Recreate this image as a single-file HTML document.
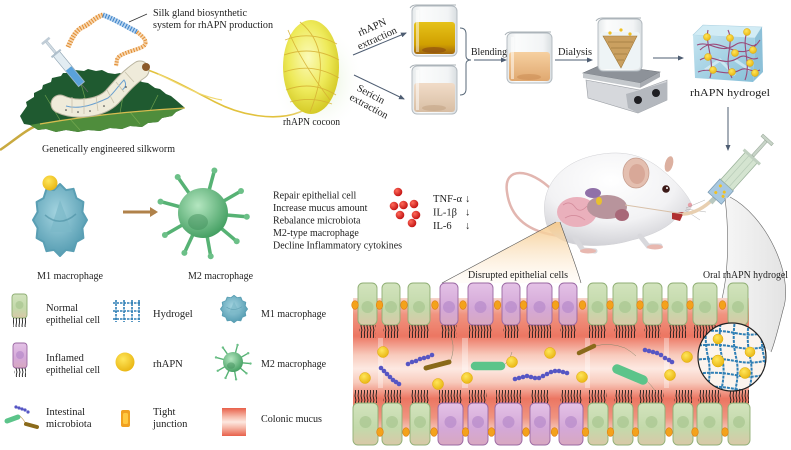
<!DOCTYPE html>
<html><head><meta charset="utf-8">
<style>
html,body{margin:0;padding:0;background:#fff;}
svg{display:block;}
text{font-family:"Liberation Serif","DejaVu Serif",serif;fill:#1e1e1e;font-size:10.5px;}
.g{fill:url(#gc);stroke:#8fae74;stroke-width:0.9;}
.p{fill:url(#pc);stroke:#9a68a2;stroke-width:0.9;}
.ng{fill:#a9c792;opacity:.75;}
.np{fill:#b88ccb;opacity:.75;}
.mv{fill:url(#mv);}
.tj{fill:#f3a21c;stroke:#e07c10;stroke-width:.6;}
.yd{fill:url(#yg);stroke:#e0a800;stroke-width:.5;}
.bc{fill:#5656c4;}
.ar{stroke:#4e5d72;stroke-width:1;fill:none;}
.ls{font-size:10px;}
</style></head><body>
<svg width="791" height="450" viewBox="0 0 791 450" xmlns="http://www.w3.org/2000/svg">
<defs>
<marker id="ah" markerWidth="6" markerHeight="6" refX="5" refY="3" orient="auto" markerUnits="userSpaceOnUse"><path d="M0,0.5 L6,3 L0,5.5 z" fill="#4e5d72"/></marker>
<marker id="ahb" markerWidth="10" markerHeight="10" refX="6" refY="5" orient="auto" markerUnits="userSpaceOnUse"><path d="M0,0 L8,5 L0,10 z" fill="#b0824a"/></marker>
<radialGradient id="cocG" cx="0.45" cy="0.4" r="0.65"><stop offset="0" stop-color="#fbfab8"/><stop offset="0.55" stop-color="#eeea5a"/><stop offset="1" stop-color="#d0c41c"/></radialGradient>
<radialGradient id="glow" cx="0.5" cy="0.5" r="0.5"><stop offset="0" stop-color="#d6ebc0" stop-opacity="0.9"/><stop offset="1" stop-color="#ffffff" stop-opacity="0"/></radialGradient>
<linearGradient id="mucus" x1="0" y1="0" x2="0" y2="1">
<stop offset="0" stop-color="#f7d6cc"/><stop offset="0.12" stop-color="#f09480"/><stop offset="0.28" stop-color="#ec7662"/><stop offset="0.42" stop-color="#f8cbbd"/><stop offset="0.52" stop-color="#fde9e2"/><stop offset="0.62" stop-color="#f8cbbd"/><stop offset="0.74" stop-color="#ec7662"/><stop offset="0.88" stop-color="#f09480"/><stop offset="1" stop-color="#f7d6cc"/></linearGradient>
<linearGradient id="gc" x1="0" y1="0" x2="0" y2="1"><stop offset="0" stop-color="#d2e3bd"/><stop offset="0.6" stop-color="#c3d9aa"/><stop offset="1" stop-color="#d9c9a8"/></linearGradient>
<linearGradient id="pc" x1="0" y1="0" x2="0" y2="1"><stop offset="0" stop-color="#e4c2e6"/><stop offset="0.6" stop-color="#d4a8d8"/><stop offset="1" stop-color="#d8a8c0"/></linearGradient>
<pattern id="mv" width="3" height="14" patternUnits="userSpaceOnUse"><path d="M1.5 0 L1 4 L2 8 L1.3 11 L1.5 14" stroke="#1b1b1b" stroke-width="0.9" fill="none"/></pattern>
<radialGradient id="yg" cx="0.4" cy="0.35" r="0.7"><stop offset="0" stop-color="#ffe65a"/><stop offset="1" stop-color="#e8b410"/></radialGradient>
<radialGradient id="m1g" cx="0.45" cy="0.4" r="0.65"><stop offset="0" stop-color="#a4d4e0"/><stop offset="1" stop-color="#4f98ae"/></radialGradient>
<radialGradient id="m2g" cx="0.4" cy="0.35" r="0.7"><stop offset="0" stop-color="#b4e6c0"/><stop offset="1" stop-color="#3f9c5e"/></radialGradient>
<radialGradient id="rd" cx="0.35" cy="0.35" r="0.7"><stop offset="0" stop-color="#ff6a5a"/><stop offset="1" stop-color="#c01010"/></radialGradient>
<linearGradient id="coneO" x1="0" y1="0" x2="0" y2="1"><stop offset="0" stop-color="#f5c98c" stop-opacity="0.95"/><stop offset="1" stop-color="#fff6ea" stop-opacity="0.3"/></linearGradient>
<linearGradient id="coneG" x1="0" y1="0" x2="1" y2="0"><stop offset="0" stop-color="#f6f6f6"/><stop offset="1" stop-color="#dcdcdc"/></linearGradient>
<radialGradient id="mouseG" cx="0.45" cy="0.3" r="0.8"><stop offset="0" stop-color="#ffffff"/><stop offset="0.55" stop-color="#f2f2f4"/><stop offset="1" stop-color="#c6c6cc"/></radialGradient>
<linearGradient id="cubeF" x1="0" y1="0" x2="1" y2="1"><stop offset="0" stop-color="#c4e4f0"/><stop offset="1" stop-color="#86bfd8"/></linearGradient>
<linearGradient id="gold" x1="0" y1="0" x2="0" y2="1"><stop offset="0" stop-color="#e6c21a"/><stop offset="0.7" stop-color="#d0a000"/><stop offset="1" stop-color="#a46a10"/></linearGradient>
<linearGradient id="peach" x1="0" y1="0" x2="0" y2="1"><stop offset="0" stop-color="#f1dcc8"/><stop offset="1" stop-color="#d8bea4"/></linearGradient>
<linearGradient id="orng" x1="0" y1="0" x2="0" y2="1"><stop offset="0" stop-color="#f6d0a0"/><stop offset="1" stop-color="#e0a870"/></linearGradient>
<linearGradient id="glass" x1="0" y1="0" x2="1" y2="0"><stop offset="0" stop-color="#e4e8ea"/><stop offset="0.2" stop-color="#fbfcfc"/><stop offset="0.8" stop-color="#f2f4f5"/><stop offset="1" stop-color="#d8dde0"/></linearGradient>
<linearGradient id="cm" x1="0" y1="0" x2="0" y2="1"><stop offset="0" stop-color="#e8604a"/><stop offset="0.3" stop-color="#f6b8a8"/><stop offset="0.5" stop-color="#fde8e0"/><stop offset="0.7" stop-color="#f6b8a8"/><stop offset="1" stop-color="#e8604a"/></linearGradient>
<clipPath id="circ"><circle cx="732" cy="357" r="34"/></clipPath>
<g id="m1shape"><polygon points="87,220 82.4,228 83.4,238 76.4,241.9 73.5,251.2 66,249.9 60,256 54,249.9 46.5,251.2 43.6,241.9 36.6,238 37.6,228 33,220 37.6,212 36.6,202 43.6,198.1 46.5,188.8 54,190.1 60,184 66,190.1 73.5,188.8 76.4,198.1 83.4,202 82.4,212" fill="url(#m1g)" stroke="#5a9fb4" stroke-width="2" stroke-linejoin="round"/>
<path d="M50,232 L60,200 L72,232 Z" fill="#7ab8c8" opacity=".7"/><path d="M45,215 Q60,228 76,214" stroke="#4a8ea2" stroke-width="1.5" fill="none" opacity=".6"/></g>
<g id="m2shape">
<g stroke="#56b274" stroke-width="3.5" stroke-linecap="round">
<line x1="203" y1="213" x2="160.5" y2="201.6"/><line x1="203" y1="213" x2="177.7" y2="177"/><line x1="203" y1="213" x2="214.4" y2="170.5"/><line x1="203" y1="213" x2="241" y2="191"/><line x1="203" y1="213" x2="246.8" y2="216.8"/><line x1="203" y1="213" x2="236.7" y2="241.3"/><line x1="203" y1="213" x2="210.7" y2="256.3"/><line x1="203" y1="213" x2="184.4" y2="252.9"/><line x1="203" y1="213" x2="164.9" y2="235"/></g>
<g fill="#6cc088"><circle cx="160.5" cy="201.6" r="3"/><circle cx="177.7" cy="177" r="3"/><circle cx="214.4" cy="170.5" r="3"/><circle cx="241" cy="191" r="3"/><circle cx="246.8" cy="216.8" r="3"/><circle cx="236.7" cy="241.3" r="3"/><circle cx="210.7" cy="256.3" r="3"/><circle cx="184.4" cy="252.9" r="3"/><circle cx="164.9" cy="235" r="3"/></g>
<circle cx="203" cy="213" r="25" fill="url(#m2g)"/>
<ellipse cx="198" cy="222" rx="10" ry="8" fill="#3e8c58" opacity=".45"/></g>
</defs>

<!-- ===== Top-left: leaf, silkworm, syringe, DNA ===== -->
<path d="M0,150 C15,140 25,130 40,124" stroke="#c9aa40" stroke-width="2.5" fill="none"/>
<path d="M20,116 L27,106 L26,102 L34,97 L34,93 L42,89 L43,85 L51,82 L52,78 L61,76 L63,73 L72,73 L75,70 L84,71 L88,69 L96,71 L102,70 L108,73 L115,74 L120,73 L128,77 L134,77 L142,82 L148,83 L155,88 L160,89 L166,94 L171,96 L177,101 L185,108 L176,112 L172,116 L162,118 L158,122 L148,123 L142,127 L130,126 L122,129 L110,128 L100,131 L88,130 L78,132 L66,130 L56,132 L46,129 L38,130 L30,125 L24,124 Z" fill="#1f5a30"/>
<path d="M30,125 Q100,112 185,108 L176,112 L172,116 L162,118 L158,122 L148,123 L142,127 L130,126 L122,129 L110,128 L100,131 L88,130 L78,132 L66,130 L56,132 L46,129 L38,130 Z" fill="#4f8d3c"/>
<g stroke="#7fb055" stroke-width=".7" fill="none" opacity=".8"><path d="M60,120 L45,95"/><path d="M90,116 L80,80"/><path d="M120,113 L125,85"/><path d="M150,111 L158,95"/><path d="M70,119 L80,130"/><path d="M130,112 L140,124"/></g>
<path d="M40,124 Q110,112 185,108" stroke="#d8bc50" stroke-width="1.3" fill="none"/>
<path d="M148,70 C175,80 195,92 215,102 C240,115 275,122 300,112 C315,106 328,98 334,90" stroke="#e2c23e" stroke-width="1.6" fill="none"/>
<path d="M158,74 C180,84 198,96 222,100" stroke="#f0d870" stroke-width="1.2" fill="none"/>
<path d="M60,104 C75,111 100,109 112,97 C120,88 128,78 140,70" stroke="#b9b49f" stroke-width="19" stroke-linecap="round" fill="none"/>
<path d="M60,104 C75,111 100,109 112,97 C120,88 128,78 140,70" stroke="#efebda" stroke-width="17" stroke-linecap="round" fill="none"/>
<path d="M66,106 C80,110 95,104 108,98 C115,92 118,86 124,80 Q128,86 122,90" stroke="#6aa0d0" stroke-width="1" fill="none"/>
<g stroke="#c8c2ac" stroke-width=".8"><line x1="72" y1="97" x2="72" y2="113"/><line x1="84" y1="98" x2="84" y2="114"/><line x1="96" y1="96" x2="98" y2="111"/><line x1="107" y1="90" x2="114" y2="103"/><line x1="116" y1="82" x2="124" y2="92"/><line x1="125" y1="72" x2="134" y2="82"/></g>
<g fill="#333"><circle cx="66" cy="110" r=".8"/><circle cx="78" cy="112" r=".8"/><circle cx="90" cy="111" r=".8"/><circle cx="104" cy="106" r=".8"/><circle cx="126" cy="87" r=".8"/></g>
<circle cx="146" cy="67" r="4" fill="#8b5a2b"/>
<g transform="translate(88,92) rotate(-129.6)">
<line x1="0" y1="0" x2="11" y2="0" stroke="#666" stroke-width=".8"/>
<rect x="10" y="-4" width="40" height="8" fill="#e2ecf2" stroke="#8aa0b0" stroke-width=".6"/>
<rect x="10.5" y="-3.5" width="20" height="7" fill="#5aa2da"/>
<rect x="49" y="-6" width="2" height="12" fill="#b0c0cc"/>
<rect x="51" y="-1.2" width="14" height="2.4" fill="#d0dae2" stroke="#8aa0b0" stroke-width=".4"/>
<rect x="65" y="-5" width="2.5" height="10" fill="#c0ccd6"/>
</g>
<path d="M68,47 C72,38 76,30 83,27 C90,24 95,17 103,15" stroke="#f0b060" stroke-width="5" fill="none" opacity=".5"/>
<path d="M68,47 C72,38 76,30 83,27 C90,24 95,17 103,15" stroke="#e08a30" stroke-width="5" stroke-dasharray="1 1.8" fill="none"/>
<path d="M103,15 C112,18 122,24 137,32" stroke="#8ab8e4" stroke-width="5" fill="none" opacity=".6"/>
<path d="M103,15 C112,18 122,24 137,32" stroke="#3a82c8" stroke-width="5" stroke-dasharray="1 1.8" fill="none"/>
<path d="M137,32 C145,38 150,44 140,48 C130,52 118,54 117,60 L116,66" stroke="#f0b060" stroke-width="4" fill="none" opacity=".5"/>
<path d="M137,32 C145,38 150,44 140,48 C130,52 118,54 117,60 L116,66" stroke="#e08a30" stroke-width="4" stroke-dasharray="1 1.8" fill="none"/>
<line x1="129" y1="22" x2="147" y2="14" stroke="#333" stroke-width=".7"/>
<text x="153" y="16" textLength="94" lengthAdjust="spacingAndGlyphs">Silk gland biosynthetic</text>
<text x="153" y="28" textLength="120" lengthAdjust="spacingAndGlyphs">system for rhAPN production</text>
<text x="42" y="152" textLength="133" lengthAdjust="spacingAndGlyphs">Genetically engineered silkworm</text>

<!-- cocoon -->
<ellipse cx="318" cy="80" rx="46" ry="56" fill="url(#glow)"/>
<ellipse cx="311" cy="67" rx="28" ry="47" fill="url(#cocG)"/>
<g stroke="#d6b032" stroke-width=".9" fill="none" opacity=".85">
<path d="M285,40 Q310,30 337,44"/><path d="M284,55 Q312,45 339,60"/><path d="M284,72 Q312,62 339,78"/><path d="M286,90 Q312,80 336,95"/><path d="M290,102 Q312,96 332,104"/><path d="M288,30 Q300,60 330,100"/><path d="M300,22 Q335,50 310,112"/></g>
<text x="283" y="125" textLength="57" lengthAdjust="spacingAndGlyphs">rhAPN cocoon</text>

<line x1="353" y1="55" x2="406" y2="33" class="ar" marker-end="url(#ah)"/>
<line x1="354" y1="75" x2="404" y2="99" class="ar" marker-end="url(#ah)"/>
<g transform="rotate(-24 372 27)"><text x="372" y="30.5" text-anchor="middle">rhAPN</text></g>
<g transform="rotate(-24 377 38)"><text x="377" y="41.5" text-anchor="middle">extraction</text></g>
<g transform="rotate(28 371 94)"><text x="371" y="97.5" text-anchor="middle">Sericin</text></g>
<g transform="rotate(28 369 106)"><text x="369" y="109.5" text-anchor="middle">extraction</text></g>

<!-- beakers -->
<g>
<rect x="412" y="6" width="45" height="50" rx="5" fill="url(#glass)" stroke="#b0b8be" stroke-width=".9"/>
<rect x="414" y="22" width="41" height="32" rx="3" fill="url(#gold)"/>
<ellipse cx="434" cy="50" rx="12" ry="3" fill="#8a4a10" opacity=".6"/>
<path d="M410,8 Q412,5 416,5 L456,5" stroke="#a8b0b6" stroke-width="1" fill="none"/>
<rect x="416" y="10" width="3" height="42" fill="#fff" opacity=".5"/>
</g>
<g>
<rect x="412" y="66" width="45" height="48" rx="5" fill="url(#glass)" stroke="#b0b8be" stroke-width=".9"/>
<rect x="414" y="83" width="41" height="29" rx="3" fill="url(#peach)"/>
<ellipse cx="434" cy="108" rx="12" ry="3" fill="#c0a080" opacity=".5"/>
<path d="M410,68 Q412,65 416,65 L456,65" stroke="#a8b0b6" stroke-width="1" fill="none"/>
<rect x="416" y="70" width="3" height="40" fill="#fff" opacity=".5"/>
</g>
<path d="M460,28 Q466,28 466,34 L466,56 Q466,60 471,60 Q466,60 466,64 L466,89 Q466,95 460,95" stroke="#5a6a7a" stroke-width="1" fill="none"/>
<text x="471" y="55" textLength="36" lengthAdjust="spacingAndGlyphs">Blending</text>
<line x1="474" y1="60" x2="506" y2="60" class="ar" marker-end="url(#ah)"/>
<g>
<rect x="507" y="33" width="45" height="50" rx="5" fill="url(#glass)" stroke="#b0b8be" stroke-width=".9"/>
<rect x="509" y="52" width="41" height="29" rx="3" fill="url(#orng)"/>
<ellipse cx="529" cy="77" rx="12" ry="3" fill="#c88850" opacity=".5"/>
<path d="M505,35 Q507,32 511,32 L551,32" stroke="#a8b0b6" stroke-width="1" fill="none"/>
<rect x="511" y="37" width="3" height="42" fill="#fff" opacity=".5"/>
</g>
<text x="558" y="55" textLength="34" lengthAdjust="spacingAndGlyphs">Dialysis</text>
<line x1="555" y1="60" x2="592" y2="60" class="ar" marker-end="url(#ah)"/>

<!-- hot plate -->
<polygon points="586,80 640,90 667,80 667,100 638,113 588,98" fill="#d6d8dc" stroke="#9a9ea4" stroke-width=".6"/>
<polygon points="626,94 667,82 667,100 638,113 628,108" fill="#b4b8be"/>
<circle cx="638" cy="100" r="4" fill="#1e1e22"/><circle cx="656" cy="93" r="4" fill="#1e1e22"/>
<polygon points="583,73 603,64 660,72 640,83" fill="#8d9299" stroke="#6e737a" stroke-width=".6"/>
<polygon points="583,73 640,83 640,88 583,78" fill="#c4c8cc"/>
<polygon points="640,83 660,72 660,77 640,88" fill="#a8acb2"/>
<rect x="598" y="19" width="44" height="52" rx="5" fill="url(#glass)" stroke="#b0b8be" stroke-width=".9"/>
<rect x="600" y="32" width="40" height="37" rx="3" fill="#eef4f6"/>
<path d="M603,36 L637,36 L621,68 Z" fill="#caa060" stroke="#a07838" stroke-width=".6"/>
<path d="M608,42 L633,42 M611,48 L630,48 M614,54 L627,54 M617,60 L624,60" stroke="#8a6a30" stroke-width=".6"/>
<g fill="#f0c020"><circle cx="610" cy="33" r="1.6"/><circle cx="621" cy="30" r="1.6"/><circle cx="630" cy="34" r="1.6"/></g>
<path d="M596,21 Q598,18 602,18 L641,18" stroke="#a8b0b6" stroke-width="1" fill="none"/>
<line x1="653" y1="58" x2="683" y2="58" class="ar" marker-end="url(#ah)"/>

<!-- hydrogel cube -->
<polygon points="693,35 703,25 762,27 755,38" fill="#d2ecf5" stroke="#a8cfe0" stroke-width=".6"/>
<polygon points="755,38 762,27 763,72 753,82" fill="#8cc0d8"/>
<polygon points="693,35 755,38 753,82 695,78" fill="url(#cubeF)"/>
<path d="M705,70 L720,60 L735,75 M735,60 L750,70" stroke="#e8f6fb" stroke-width="3" fill="none" opacity=".6"/>
<g stroke="#9a4a7a" stroke-width="1.1" fill="none">
<path d="M697,45 C710,40 720,55 735,45 C745,38 752,50 756,44"/><path d="M700,60 C712,52 722,68 738,58 C746,52 750,62 758,58"/><path d="M698,72 C712,66 725,78 740,70 C748,66 752,74 760,70"/><path d="M708,30 C705,45 715,60 710,78"/><path d="M728,30 C735,45 722,60 732,78"/><path d="M748,30 C740,45 752,62 745,80"/><path d="M700,50 C720,30 740,70 760,40"/></g>
<g class="yd"><circle cx="707" cy="37" r="3.5"/><circle cx="730" cy="38" r="3.5"/><circle cx="747" cy="32" r="3.5"/><circle cx="708" cy="57" r="3.5"/><circle cx="735" cy="53" r="3.5"/><circle cx="753" cy="50" r="3.5"/><circle cx="750" cy="63" r="3.5"/><circle cx="713" cy="70" r="3.5"/><circle cx="732" cy="72" r="3.5"/><circle cx="755" cy="73" r="3.5"/></g>
<text x="690" y="96" textLength="80" lengthAdjust="spacingAndGlyphs">rhAPN hydrogel</text>
<line x1="728" y1="107" x2="728" y2="150" class="ar" marker-end="url(#ah)"/>

<!-- ===== Middle: macrophages ===== -->
<use href="#m1shape"/>
<circle cx="50" cy="183" r="7.5" fill="url(#yg)"/>
<line x1="123" y1="212" x2="156" y2="212" stroke="#b0824a" stroke-width="3"  marker-end="url(#ahb)"/>
<use href="#m2shape"/>
<text x="37" y="279" textLength="66" lengthAdjust="spacingAndGlyphs">M1 macrophage</text>
<text x="188" y="279" textLength="65" lengthAdjust="spacingAndGlyphs">M2 macrophage</text>
<text class="ls" x="273" y="198.5">Repair epithelial cell</text>
<text class="ls" x="273" y="211">Increase mucus amount</text>
<text class="ls" x="273" y="223.5">Rebalance microbiota</text>
<text class="ls" x="273" y="236">M2-type macrophage</text>
<text class="ls" x="273" y="248.5" textLength="129" lengthAdjust="spacingAndGlyphs">Decline Inflammatory cytokines</text>
<g fill="url(#rd)"><circle cx="398" cy="192" r="4.3"/><circle cx="394" cy="206" r="4.3"/><circle cx="403.5" cy="205" r="4.3"/><circle cx="414" cy="204" r="4.3"/><circle cx="400" cy="215" r="4.3"/><circle cx="416" cy="215" r="4.3"/><circle cx="412" cy="223" r="4.3"/></g>
<text x="433" y="202" textLength="29" lengthAdjust="spacingAndGlyphs">TNF-α</text><text x="465" y="202" font-family="DejaVu Sans" font-size="9">↓</text>
<text x="433" y="215.5">IL-1β</text><text x="465" y="215.5" font-family="DejaVu Sans" font-size="9">↓</text>
<text x="433" y="229">IL-6</text><text x="465" y="229" font-family="DejaVu Sans" font-size="9">↓</text>

<!-- ===== Mouse ===== -->
<path d="M552,190 C530,168 503,166 507,192 C510,216 526,232 560,236" stroke="#e2b6b0" stroke-width="2.5" fill="none"/>
<path d="M546,222 C538,188 560,160 602,154 C628,150 648,158 662,170 C677,182 688,195 692,205 C690,212 684,216 676,218 C668,228 650,236 632,240 C610,247 578,248 562,240 C552,235 547,228 546,222 Z" fill="url(#mouseG)" stroke="#d0d0d4" stroke-width=".5"/>
<path d="M575,238 L583,250 L595,251 M640,236 L648,246 L660,246" stroke="#d8d8dc" stroke-width="5" fill="none" stroke-linecap="round"/>
<ellipse cx="588" cy="251" rx="8" ry="2.5" fill="#e8b8b0"/><ellipse cx="655" cy="247" rx="8" ry="2.5" fill="#e8b8b0"/>
<ellipse cx="636" cy="173" rx="13" ry="15" fill="#e4bfb0" stroke="#c49a8a" stroke-width=".7"/>
<ellipse cx="637" cy="174" rx="8" ry="10" fill="#d8a898"/>
<ellipse cx="669" cy="164" rx="4" ry="8" fill="#dcb0a0" transform="rotate(15 669 164)"/>
<circle cx="666" cy="189" r="3.8" fill="#3d1a18"/><circle cx="667" cy="188" r="1" fill="#fff"/>
<circle cx="690" cy="205" r="2.2" fill="#e8a0a8"/>
<path d="M672,213 L684,212 L680,221 L672,219 Z" fill="#b03030"/>
<g stroke="#9a9a9a" stroke-width=".4"><line x1="686" y1="208" x2="705" y2="200"/><line x1="686" y1="209" x2="706" y2="212"/><line x1="685" y1="210" x2="700" y2="220"/></g>
<ellipse cx="577" cy="212" rx="20" ry="15" fill="#eab0bc"/>
<path d="M563,205 Q570,200 575,207 Q580,214 587,206 M565,218 Q575,212 585,220" stroke="#d48c9c" stroke-width=".8" fill="none"/>
<ellipse cx="607" cy="207" rx="20" ry="12" fill="#b8949c"/>
<ellipse cx="593" cy="193" rx="8" ry="5" fill="#9070a8"/>
<ellipse cx="599" cy="201" rx="3" ry="4" fill="#e8c030"/>
<ellipse cx="622" cy="215" rx="7" ry="6" fill="#a86878"/>
<line x1="625" y1="205" x2="684" y2="214" stroke="#d8c0a8" stroke-width="1"/>
<path d="M684,214 C695,213 705,207 713,199" stroke="#e8cfb0" stroke-width="3.5" stroke-linecap="round" fill="none"/>
<g transform="translate(714,199) rotate(-48)">
<rect x="-5" y="-2.5" width="6" height="5" fill="#b8c8c0"/>
<rect x="1" y="-9" width="18" height="18" fill="#a8c8e0" stroke="#7898b0" stroke-width=".7"/>
<g fill="#f0c020"><circle cx="6" cy="-3" r="1.5"/><circle cx="12" cy="3" r="1.5"/><circle cx="8" cy="5" r="1.5"/><circle cx="14" cy="-4" r="1.5"/></g>
<rect x="19" y="-8" width="38" height="16" fill="#d4e4d0" stroke="#98b098" stroke-width=".7"/>
<line x1="20" y1="-3" x2="56" y2="-3" stroke="#b8ccb8" stroke-width=".7"/><line x1="20" y1="3" x2="56" y2="3" stroke="#b8ccb8" stroke-width=".7"/>
<rect x="55" y="-11" width="3" height="22" fill="#c0d0c0"/>
<rect x="58" y="-1.5" width="20" height="3" fill="#c8d4c8" stroke="#98a898" stroke-width=".5"/>
<rect x="78" y="-7" width="3" height="14" fill="#c8d4c8" stroke="#98a898" stroke-width=".5"/>
</g>

<!-- cones -->
<path d="M556,222 L442,283 L581,283 C575,262 566,240 560,222 Z" fill="url(#coneO)"/>
<line x1="556" y1="222" x2="442" y2="283" stroke="#555" stroke-width=".6"/>
<path d="M560,222 C568,245 576,265 581,283" stroke="#555" stroke-width=".6" fill="none"/>
<path d="M725,198 C730,240 728,285 718,312 L771,352 C774,345 778,330 783,310 C795,275 765,215 730,197 Z" fill="url(#coneG)" opacity=".8"/>
<path d="M725,198 C730,240 728,285 718,312" stroke="#666" stroke-width=".6" fill="none"/>
<path d="M730,197 C765,215 795,275 783,310 C778,330 774,345 771,352" stroke="#666" stroke-width=".6" fill="none"/>

<!-- ===== Intestine ===== -->
<rect x="353" y="298" width="396" height="136" fill="url(#mucus)"/>
<g opacity=".35" fill="#fff"><rect x="378" y="338" width="5" height="50"/><rect x="462" y="338" width="6" height="50"/><rect x="585" y="338" width="5" height="50"/><rect x="664" y="338" width="5" height="50"/></g>
<g>
<rect class="g" x="358" y="283" width="19" height="42" rx="5"/><rect class="g" x="382" y="283" width="18" height="42" rx="5"/><rect class="g" x="408" y="283" width="22" height="42" rx="5"/>
<rect class="p" x="440" y="283" width="18" height="42" rx="5"/><rect class="p" x="468" y="283" width="25" height="42" rx="5"/><rect class="p" x="502" y="283" width="18" height="42" rx="5"/><rect class="p" x="527" y="283" width="25" height="42" rx="5"/><rect class="p" x="559" y="283" width="18" height="42" rx="5"/>
<rect class="g" x="588" y="283" width="19" height="42" rx="5"/><rect class="g" x="613" y="283" width="24" height="42" rx="5"/><rect class="g" x="643" y="283" width="19" height="42" rx="5"/><rect class="g" x="668" y="283" width="19" height="42" rx="5"/><rect class="g" x="693" y="283" width="24" height="42" rx="5"/><rect class="g" x="728" y="283" width="20" height="42" rx="5"/>
</g>
<g>
<circle class="ng" cx="367.5" cy="307" r="6"/><circle class="ng" cx="391" cy="307" r="6"/><circle class="ng" cx="419" cy="307" r="6"/>
<circle class="np" cx="449" cy="307" r="6"/><circle class="np" cx="480.5" cy="307" r="6"/><circle class="np" cx="511" cy="307" r="6"/><circle class="np" cx="539.5" cy="307" r="6"/><circle class="np" cx="568" cy="307" r="6"/>
<circle class="ng" cx="597.5" cy="307" r="6"/><circle class="ng" cx="625" cy="307" r="6"/><circle class="ng" cx="652.5" cy="307" r="6"/><circle class="ng" cx="677.5" cy="307" r="6"/><circle class="ng" cx="705" cy="307" r="6"/><circle class="ng" cx="738" cy="307" r="6"/>
</g>
<g>
<rect class="mv" x="359" y="325" width="17" height="13"/><rect class="mv" x="383" y="325" width="16" height="13"/><rect class="mv" x="409" y="325" width="20" height="13"/><rect class="mv" x="441" y="325" width="16" height="13"/><rect class="mv" x="469" y="325" width="23" height="13"/><rect class="mv" x="503" y="325" width="16" height="13"/><rect class="mv" x="528" y="325" width="23" height="13"/><rect class="mv" x="560" y="325" width="16" height="13"/><rect class="mv" x="589" y="325" width="17" height="13"/><rect class="mv" x="614" y="325" width="22" height="13"/><rect class="mv" x="644" y="325" width="17" height="13"/><rect class="mv" x="669" y="325" width="17" height="13"/><rect class="mv" x="694" y="325" width="22" height="13"/><rect class="mv" x="729" y="325" width="18" height="13"/>
</g>
<g>
<rect class="mv" x="354" y="390" width="23" height="13"/><rect class="mv" x="383" y="390" width="18" height="13"/><rect class="mv" x="411" y="390" width="18" height="13"/><rect class="mv" x="439" y="390" width="23" height="13"/><rect class="mv" x="469" y="390" width="18" height="13"/><rect class="mv" x="496" y="390" width="25" height="13"/><rect class="mv" x="531" y="390" width="18" height="13"/><rect class="mv" x="560" y="390" width="22" height="13"/><rect class="mv" x="589" y="390" width="18" height="13"/><rect class="mv" x="614" y="390" width="18" height="13"/><rect class="mv" x="639" y="390" width="25" height="13"/><rect class="mv" x="674" y="390" width="18" height="13"/><rect class="mv" x="698" y="390" width="23" height="13"/><rect class="mv" x="729" y="390" width="20" height="13"/>
</g>
<g>
<rect class="g" x="353" y="403" width="25" height="42" rx="5"/><rect class="g" x="382" y="403" width="20" height="42" rx="5"/><rect class="g" x="410" y="403" width="20" height="42" rx="5"/>
<rect class="p" x="438" y="403" width="25" height="42" rx="5"/><rect class="p" x="468" y="403" width="20" height="42" rx="5"/><rect class="p" x="495" y="403" width="27" height="42" rx="5"/><rect class="p" x="530" y="403" width="20" height="42" rx="5"/><rect class="p" x="559" y="403" width="24" height="42" rx="5"/>
<rect class="g" x="588" y="403" width="20" height="42" rx="5"/><rect class="g" x="613" y="403" width="20" height="42" rx="5"/><rect class="g" x="638" y="403" width="27" height="42" rx="5"/><rect class="g" x="673" y="403" width="20" height="42" rx="5"/><rect class="g" x="697" y="403" width="25" height="42" rx="5"/><rect class="g" x="728" y="403" width="22" height="42" rx="5"/>
</g>
<g>
<circle class="ng" cx="365.5" cy="422" r="6"/><circle class="ng" cx="392" cy="422" r="6"/><circle class="ng" cx="420" cy="422" r="6"/>
<circle class="np" cx="450.5" cy="422" r="6"/><circle class="np" cx="478" cy="422" r="6"/><circle class="np" cx="508.5" cy="422" r="6"/><circle class="np" cx="540" cy="422" r="6"/><circle class="np" cx="571" cy="422" r="6"/>
<circle class="ng" cx="598" cy="422" r="6"/><circle class="ng" cx="623" cy="422" r="6"/><circle class="ng" cx="651.5" cy="422" r="6"/><circle class="ng" cx="683" cy="422" r="6"/><circle class="ng" cx="709.5" cy="422" r="6"/><circle class="ng" cx="739" cy="422" r="6"/>
</g>
<g>
<ellipse class="tj" cx="355" cy="305" rx="3.3" ry="4.3"/><ellipse class="tj" cx="379.5" cy="305" rx="3.3" ry="4.3"/><ellipse class="tj" cx="404" cy="305" rx="3.3" ry="4.3"/><ellipse class="tj" cx="435" cy="305" rx="3.3" ry="4.3"/><ellipse class="tj" cx="463" cy="305" rx="3.3" ry="4.3"/><ellipse class="tj" cx="497.5" cy="305" rx="3.3" ry="4.3"/><ellipse class="tj" cx="523.5" cy="305" rx="3.3" ry="4.3"/><ellipse class="tj" cx="555.5" cy="305" rx="3.3" ry="4.3"/><ellipse class="tj" cx="582.5" cy="305" rx="3.3" ry="4.3"/><ellipse class="tj" cx="610" cy="305" rx="3.3" ry="4.3"/><ellipse class="tj" cx="640" cy="305" rx="3.3" ry="4.3"/><ellipse class="tj" cx="665" cy="305" rx="3.3" ry="4.3"/><ellipse class="tj" cx="690" cy="305" rx="3.3" ry="4.3"/><ellipse class="tj" cx="722.5" cy="305" rx="3.3" ry="4.3"/>
<ellipse class="tj" cx="380" cy="432" rx="3.3" ry="4.3"/><ellipse class="tj" cx="406" cy="432" rx="3.3" ry="4.3"/><ellipse class="tj" cx="434" cy="432" rx="3.3" ry="4.3"/><ellipse class="tj" cx="465.5" cy="432" rx="3.3" ry="4.3"/><ellipse class="tj" cx="491.5" cy="432" rx="3.3" ry="4.3"/><ellipse class="tj" cx="526" cy="432" rx="3.3" ry="4.3"/><ellipse class="tj" cx="554.5" cy="432" rx="3.3" ry="4.3"/><ellipse class="tj" cx="585.5" cy="432" rx="3.3" ry="4.3"/><ellipse class="tj" cx="610.5" cy="432" rx="3.3" ry="4.3"/><ellipse class="tj" cx="635.5" cy="432" rx="3.3" ry="4.3"/><ellipse class="tj" cx="669" cy="432" rx="3.3" ry="4.3"/><ellipse class="tj" cx="695" cy="432" rx="3.3" ry="4.3"/><ellipse class="tj" cx="725" cy="432" rx="3.3" ry="4.3"/>
</g>
<g stroke="#8a8a70" stroke-width=".5" fill="none"><path d="M450,362 Q455,350 452,340 Q449,332 447,328"/><path d="M595,346 Q610,342 625,348 Q632,352 636,356"/><path d="M503,366 Q510,360 512,352"/><path d="M646,380 Q652,386 656,392"/></g>
<line x1="426" y1="368" x2="449" y2="362" stroke="#8a6a1a" stroke-width="5" stroke-linecap="round"/>
<line x1="579" y1="353" x2="594" y2="346" stroke="#8a6a1a" stroke-width="4.5" stroke-linecap="round"/>
<line x1="475" y1="366" x2="501" y2="366" stroke="#5cc48a" stroke-width="8.5" stroke-linecap="round"/>
<line x1="617" y1="369" x2="643" y2="380" stroke="#5cc48a" stroke-width="9.5" stroke-linecap="round"/>
<g class="bc">
<circle cx="408" cy="364" r="2.3"/><circle cx="412" cy="362" r="2.3"/><circle cx="416" cy="361" r="2.3"/><circle cx="420" cy="359" r="2.3"/><circle cx="424" cy="358" r="2.3"/><circle cx="428" cy="357" r="2.3"/><circle cx="432" cy="355" r="2.3"/>
<circle cx="381" cy="368" r="2.3"/><circle cx="384" cy="371" r="2.3"/><circle cx="387" cy="374" r="2.3"/><circle cx="390" cy="377" r="2.3"/><circle cx="393" cy="380" r="2.3"/><circle cx="396" cy="382" r="2.3"/><circle cx="399" cy="384" r="2.3"/>
<circle cx="515" cy="379" r="2.3"/><circle cx="519" cy="378" r="2.3"/><circle cx="523" cy="377" r="2.3"/><circle cx="527" cy="376" r="2.3"/><circle cx="531" cy="377" r="2.3"/><circle cx="535" cy="378" r="2.3"/><circle cx="539" cy="378" r="2.3"/><circle cx="543" cy="376" r="2.3"/><circle cx="547" cy="374" r="2.3"/><circle cx="551" cy="372" r="2.3"/><circle cx="555" cy="371" r="2.3"/><circle cx="559" cy="371" r="2.3"/><circle cx="563" cy="372" r="2.3"/><circle cx="567" cy="373" r="2.3"/>
<circle cx="645" cy="350" r="2.3"/><circle cx="649" cy="351" r="2.3"/><circle cx="653" cy="352" r="2.3"/><circle cx="657" cy="353" r="2.3"/><circle cx="661" cy="355" r="2.3"/><circle cx="665" cy="358" r="2.3"/><circle cx="669" cy="360" r="2.3"/><circle cx="672" cy="362" r="2.3"/>
</g>
<g class="yd"><circle cx="383" cy="352" r="5.5"/><circle cx="365" cy="378" r="5.5"/><circle cx="438" cy="384" r="5.5"/><circle cx="467" cy="378" r="5.5"/><circle cx="512" cy="362" r="5.5"/><circle cx="550" cy="353" r="5.5"/><circle cx="582" cy="377" r="5.5"/><circle cx="687" cy="357" r="5.5"/><circle cx="670" cy="375" r="5.5"/></g>
<circle cx="732" cy="357" r="34" fill="#fbf4ee"/>
<g clip-path="url(#circ)" stroke="#2f7fb5" stroke-width="2" fill="none" stroke-dasharray="3 1">
<path d="M695,332 Q715,329 735,333 T770,331"/><path d="M695,346 Q715,343 735,347 T770,345"/><path d="M695,360 Q715,357 735,361 T770,359"/><path d="M695,374 Q715,371 735,375 T770,373"/><path d="M695,388 Q715,385 735,389 T770,387"/>
<path d="M707,320 Q704,340 708,357 T706,395"/><path d="M721,320 Q718,340 722,357 T720,395"/><path d="M735,320 Q732,340 736,357 T734,395"/><path d="M749,320 Q746,340 750,357 T748,395"/><path d="M763,320 Q760,340 764,357 T762,395"/>
</g>
<g class="yd"><circle cx="718" cy="339" r="5"/><circle cx="750" cy="352" r="5"/><circle cx="718" cy="361" r="6"/><circle cx="745" cy="373" r="5.5"/></g>
<circle cx="732" cy="357" r="34" fill="none" stroke="#222" stroke-width="1.2"/>
<text x="468" y="278" textLength="100" lengthAdjust="spacingAndGlyphs">Disrupted epithelial cells</text>
<text x="703" y="278" textLength="85" lengthAdjust="spacingAndGlyphs">Oral rhAPN hydrogel</text>

<!-- ===== Legend ===== -->
<rect class="g" x="12" y="294" width="15" height="24" rx="3"/><circle class="ng" cx="19.5" cy="305" r="4"/><rect class="mv" x="13" y="318" width="13" height="9"/>
<text x="46" y="311">Normal</text><text x="46" y="323" textLength="54" lengthAdjust="spacingAndGlyphs">epithelial cell</text>
<g stroke="#2f7fb5" stroke-width="1.6" stroke-dasharray="2.5 1" fill="none"><path d="M113,303 L140,303 M113,311 L140,311 M113,319 L140,319 M116,300 L116,322 M124,300 L124,322 M132,300 L132,322 M139,300 L139,322"/></g>
<text x="153" y="317">Hydrogel</text>
<use href="#m1shape" transform="translate(234,309) scale(0.5,0.38) translate(-60,-220)"/>
<text x="261" y="317" textLength="65" lengthAdjust="spacingAndGlyphs">M1 macrophage</text>
<rect class="p" x="13" y="343" width="14" height="25" rx="3"/><circle class="np" cx="20" cy="355" r="4"/><rect class="mv" x="14" y="368" width="12" height="9"/>
<text x="46" y="361">Inflamed</text><text x="46" y="373" textLength="54" lengthAdjust="spacingAndGlyphs">epithelial cell</text>
<circle cx="125" cy="362" r="9.5" fill="url(#yg)"/>
<text x="153" y="367" font-size="11.5">rhAPN</text>
<use href="#m2shape" transform="translate(233,362) scale(0.4) translate(-203,-213)"/>
<text x="261" y="367" textLength="65" lengthAdjust="spacingAndGlyphs">M2 macrophage</text>
<line x1="7" y1="421" x2="18" y2="417" stroke="#5cc48a" stroke-width="5" stroke-linecap="round"/>
<path d="M20,416 Q24,420 26,424" stroke="#c8a060" stroke-width=".6" fill="none"/>
<g class="bc"><circle cx="16" cy="407" r="1.6"/><circle cx="19" cy="408" r="1.6"/><circle cx="22" cy="409" r="1.6"/><circle cx="25" cy="410" r="1.6"/><circle cx="28" cy="412" r="1.6"/></g>
<line x1="26" y1="424" x2="37" y2="427" stroke="#8a6a1a" stroke-width="4" stroke-linecap="round"/>
<text x="46" y="415">Intestinal</text><text x="46" y="427">microbiota</text>
<rect x="121" y="410" width="9" height="17" rx="2" fill="#f0a020"/><rect x="123" y="413" width="5" height="11" rx="1.5" fill="#ffc840"/>
<text x="153" y="415">Tight</text><text x="153" y="427">junction</text>
<rect x="222" y="408" width="24" height="28" fill="url(#cm)"/>
<text x="261" y="422" textLength="61" lengthAdjust="spacingAndGlyphs">Colonic mucus</text>
</svg>
</body></html>
